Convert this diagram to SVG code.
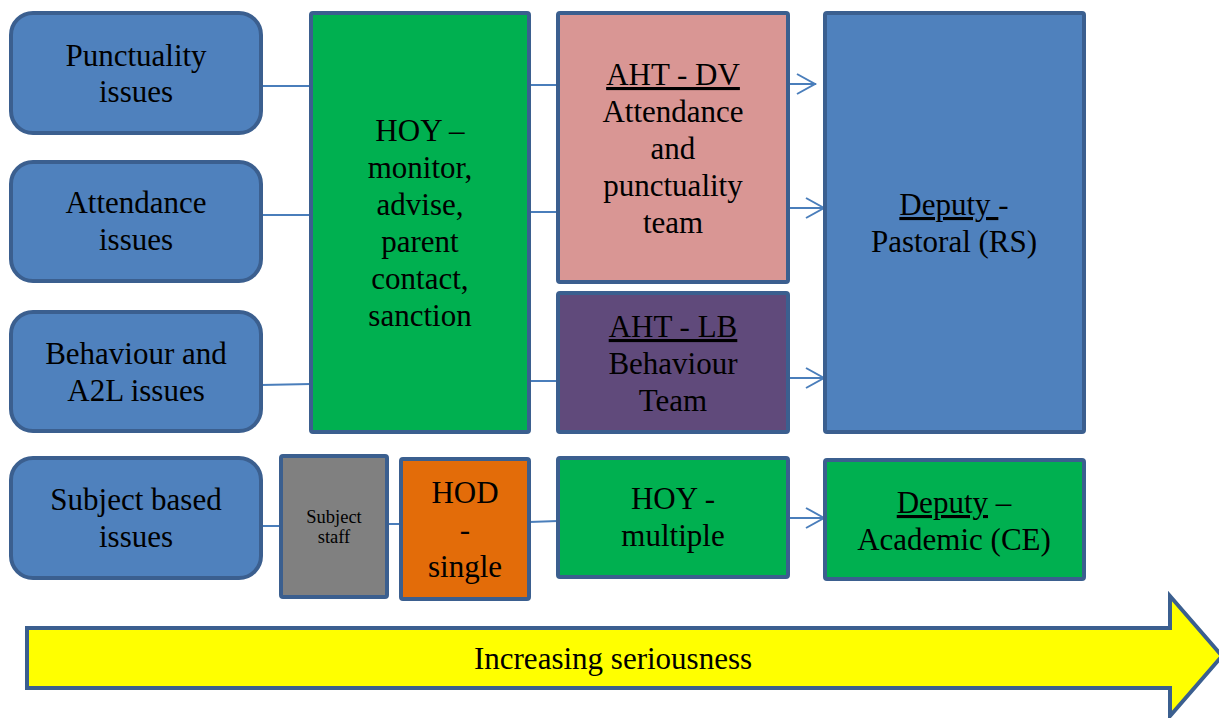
<svg xmlns="http://www.w3.org/2000/svg" width="1219" height="718" viewBox="0 0 1219 718">
<defs>
<style>
.t{font-family:"Liberation Serif","Times New Roman",serif;font-size:31px;fill:#000;text-anchor:middle}
.s{font-size:18.5px}
.u{text-decoration:underline}
.blue{fill:#4f81bd;stroke:#3b5f8f;stroke-width:4}
.box{stroke:#3b5f8f;stroke-width:4}
.c{stroke:#4a7ebb;stroke-width:2;fill:none}
</style>
<marker id="ah" markerUnits="userSpaceOnUse" markerWidth="24" markerHeight="24" viewBox="0 0 24 24" refX="21" refY="12" orient="auto">
<path d="M2,2 L20,12 L2,22" fill="none" stroke="#4a7ebb" stroke-width="2"/>
</marker>
</defs>
<rect width="1219" height="718" fill="#fff"/>

<g id="connectors">
<line class="c" x1="261" y1="86" x2="311" y2="86"/>
<line class="c" x1="261" y1="215" x2="311" y2="215"/>
<line class="c" x1="261" y1="385" x2="311" y2="384"/>
<line class="c" x1="529" y1="85" x2="558" y2="85"/>
<line class="c" x1="529" y1="212" x2="558" y2="212"/>
<line class="c" x1="529" y1="381" x2="558" y2="381"/>
<line class="c" x1="788" y1="84" x2="816" y2="84" marker-end="url(#ah)"/>
<line class="c" x1="788" y1="208" x2="825" y2="208" marker-end="url(#ah)"/>
<line class="c" x1="788" y1="378" x2="825" y2="378" marker-end="url(#ah)"/>
<line class="c" x1="261" y1="526" x2="281" y2="526"/>
<line class="c" x1="387" y1="524" x2="401" y2="524"/>
<line class="c" x1="529" y1="522" x2="558" y2="521"/>
<line class="c" x1="788" y1="518" x2="825" y2="518" marker-end="url(#ah)"/>
</g>

<g id="punctuality">
<rect class="blue" x="11" y="13" width="250" height="120" rx="22"/>
<text class="t" x="136" y="66">Punctuality</text>
<text class="t" x="136" y="102">issues</text>
</g>
<g id="attendance">
<rect class="blue" x="11" y="162" width="250" height="119" rx="22"/>
<text class="t" x="136" y="213">Attendance</text>
<text class="t" x="136" y="250">issues</text>
</g>
<g id="behaviour">
<rect class="blue" x="11" y="312" width="250" height="119" rx="22"/>
<text class="t" x="136" y="364">Behaviour and</text>
<text class="t" x="136" y="401">A2L issues</text>
</g>
<g id="subject">
<rect class="blue" x="11" y="458" width="250" height="120" rx="22"/>
<text class="t" x="136" y="510">Subject based</text>
<text class="t" x="136" y="547">issues</text>
</g>

<g id="hoy">
<rect class="box" x="311" y="13" width="218" height="419" rx="2" fill="#00b050"/>
<text class="t" x="420" y="141">HOY –</text>
<text class="t" x="420" y="178">monitor,</text>
<text class="t" x="420" y="215">advise,</text>
<text class="t" x="420" y="252">parent</text>
<text class="t" x="420" y="289">contact,</text>
<text class="t" x="420" y="326">sanction</text>
</g>

<g id="aht-dv">
<rect class="box" x="558" y="13" width="230" height="269" rx="2" fill="#d99694"/>
<text class="t u" x="673" y="85">AHT - DV</text>
<text class="t" x="673" y="122">Attendance</text>
<text class="t" x="673" y="159">and</text>
<text class="t" x="673" y="196">punctuality</text>
<text class="t" x="673" y="233">team</text>
</g>

<g id="aht-lb">
<rect class="box" x="558" y="293" width="230" height="139" rx="2" fill="#604a7b"/>
<text class="t u" x="673" y="337">AHT - LB</text>
<text class="t" x="673" y="374">Behaviour</text>
<text class="t" x="673" y="411">Team</text>
</g>

<g id="deputy-pastoral">
<rect class="box" x="825" y="13" width="259" height="419" rx="2" fill="#4f81bd"/>
<text class="t" x="954" y="215"><tspan class="u">Deputy </tspan>-</text>
<text class="t" x="954" y="252">Pastoral (RS)</text>
</g>

<g id="subject-staff">
<rect class="box" x="281" y="456" width="106" height="141" rx="2" fill="#808080"/>
<text class="t s" x="334" y="523">Subject</text>
<text class="t s" x="334" y="543">staff</text>
</g>

<g id="hod">
<rect class="box" x="401" y="459" width="128" height="140" rx="2" fill="#e36c09"/>
<text class="t" x="465" y="503">HOD</text>
<text class="t" x="465" y="540">-</text>
<text class="t" x="465" y="577">single</text>
</g>

<g id="hoy-multiple">
<rect class="box" x="558" y="458" width="230" height="119" rx="2" fill="#00b050"/>
<text class="t" x="673" y="509">HOY -</text>
<text class="t" x="673" y="546">multiple</text>
</g>

<g id="deputy-academic">
<rect class="box" x="825" y="460" width="259" height="119" rx="2" fill="#00b050"/>
<text class="t" x="954" y="513"><tspan class="u">Deputy</tspan> –</text>
<text class="t" x="954" y="550">Academic (CE)</text>
</g>

<g id="seriousness-arrow">
<path d="M27,628 L1170,628 L1170,596 L1222,656 L1170,716 L1170,688 L27,688 Z" fill="#ffff00" stroke="#3b5f8f" stroke-width="4"/>
<text class="t" x="613" y="669">Increasing seriousness</text>
</g>
</svg>
